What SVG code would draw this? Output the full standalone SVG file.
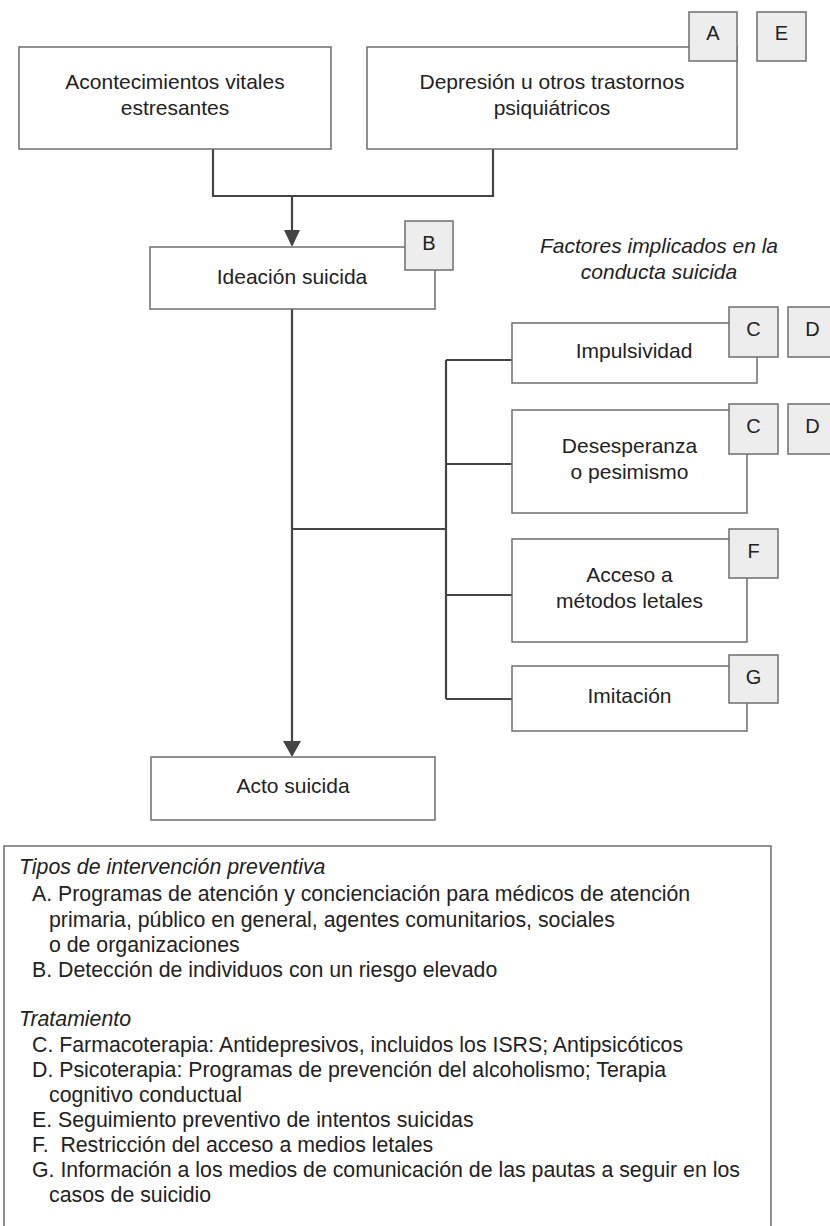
<svg xmlns="http://www.w3.org/2000/svg" width="830" height="1226" viewBox="0 0 830 1226">
<style>
.box{fill:#fff;stroke:#6e6e6e;stroke-width:1.5}
.badge{fill:#ededed;stroke:#6e6e6e;stroke-width:1.5}
.t{font-family:"Liberation Sans",Arial,sans-serif;font-size:21px;fill:#222;text-anchor:middle}
.bt{font-family:"Liberation Sans",Arial,sans-serif;font-size:20px;fill:#222;text-anchor:middle}
.it{font-style:italic}
.l{font-family:"Liberation Sans",Arial,sans-serif;font-size:21.3px;fill:#222}
.c{fill:none;stroke:#444;stroke-width:2.2}
.ah{fill:#444}
</style>
<rect width="830" height="1226" fill="#fff"/>
<g id="connectors">
<path class="c" d="M213,149 V196 H493 V149"/>
<path class="c" d="M292,196 V234"/>
<path class="ah" d="M284,230 L300,230 L292,247 Z"/>
<path class="c" d="M292,309 V744"/>
<path class="ah" d="M283,741 L301,741 L292,757 Z"/>
<path class="c" d="M292,529 H446"/>
<path class="c" d="M446,360 V699"/>
<path class="c" d="M446,360 H512 M446,464 H512 M446,595 H512 M446,699 H512"/>
</g>
<g id="n-acontecimientos">
<rect class="box" x="19" y="47" width="312" height="102"/>
<text class="t" x="175" y="89">Acontecimientos vitales</text>
<text class="t" x="175" y="115">estresantes</text>
</g>
<g id="n-depresion">
<rect class="box" x="367" y="47" width="370" height="102"/>
<text class="t" x="552" y="89">Depresión u otros trastornos</text>
<text class="t" x="552" y="115">psiquiátricos</text>
</g>
<g id="b-A"><rect class="badge" x="689" y="12" width="48" height="49"/><text class="bt" x="713" y="40">A</text></g>
<g id="b-E"><rect class="badge" x="757" y="12" width="49" height="49"/><text class="bt" x="781.5" y="40">E</text></g>
<g id="n-ideacion">
<rect class="box" x="150" y="247" width="285" height="62"/>
<text class="t" x="292" y="284">Ideación suicida</text>
</g>
<g id="b-B"><rect class="badge" x="405" y="221" width="48" height="49"/><text class="bt" x="429" y="250">B</text></g>
<g id="factores">
<text class="t it" x="659" y="253">Factores implicados en la</text>
<text class="t it" x="659" y="279">conducta suicida</text>
</g>
<g id="n-impulsividad">
<rect class="box" x="512" y="323" width="245" height="60"/>
<text class="t" x="634" y="358">Impulsividad</text>
</g>
<g id="b-C1"><rect class="badge" x="729" y="307" width="49" height="50"/><text class="bt" x="753.5" y="336">C</text></g>
<g id="b-D1"><rect class="badge" x="788" y="307" width="49" height="50"/><text class="bt" x="812.5" y="336">D</text></g>
<g id="n-desesperanza">
<rect class="box" x="512" y="410" width="235" height="103"/>
<text class="t" x="629.5" y="453">Desesperanza</text>
<text class="t" x="629.5" y="479">o pesimismo</text>
</g>
<g id="b-C2"><rect class="badge" x="729" y="404" width="49" height="50"/><text class="bt" x="753.5" y="433">C</text></g>
<g id="b-D2"><rect class="badge" x="788" y="404" width="49" height="50"/><text class="bt" x="812.5" y="433">D</text></g>
<g id="n-acceso">
<rect class="box" x="512" y="539" width="235" height="103"/>
<text class="t" x="629.5" y="582">Acceso a</text>
<text class="t" x="629.5" y="608">métodos letales</text>
</g>
<g id="b-F"><rect class="badge" x="729" y="529" width="49" height="49"/><text class="bt" x="753.5" y="558">F</text></g>
<g id="n-imitacion">
<rect class="box" x="512" y="666" width="235" height="65"/>
<text class="t" x="629.5" y="703">Imitación</text>
</g>
<g id="b-G"><rect class="badge" x="729" y="655" width="49" height="48"/><text class="bt" x="753.5" y="684">G</text></g>
<g id="n-acto">
<rect class="box" x="151" y="757" width="284" height="63"/>
<text class="t" x="293" y="793">Acto suicida</text>
</g>
<g id="legend">
<rect class="box" x="4" y="846" width="767" height="400"/>
<text class="l it" x="19" y="874">Tipos de intervención preventiva</text>
<text class="l" x="32" y="901">A. Programas de atención y concienciación para médicos de atención</text>
<text class="l" x="49" y="927">primaria, público en general, agentes comunitarios, sociales</text>
<text class="l" x="49" y="952">o de organizaciones</text>
<text class="l" x="32" y="977">B. Detección de individuos con un riesgo elevado</text>
<text class="l it" x="19" y="1026">Tratamiento</text>
<text class="l" x="32" y="1052">C. Farmacoterapia: Antidepresivos, incluidos los ISRS; Antipsicóticos</text>
<text class="l" x="32" y="1077">D. Psicoterapia: Programas de prevención del alcoholismo; Terapia</text>
<text class="l" x="49" y="1102">cognitivo conductual</text>
<text class="l" x="32" y="1127">E. Seguimiento preventivo de intentos suicidas</text>
<text class="l" x="32" y="1152" xml:space="preserve">F.  Restricción del acceso a medios letales</text>
<text class="l" x="32" y="1177">G. Información a los medios de comunicación de las pautas a seguir en los</text>
<text class="l" x="49" y="1202">casos de suicidio</text>
</g>
</svg>
